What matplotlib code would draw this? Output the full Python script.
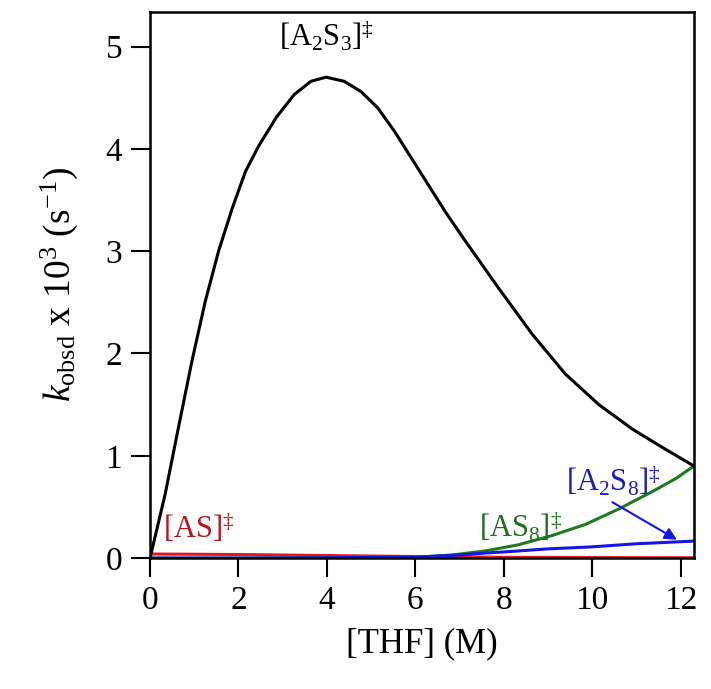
import numpy as np
import matplotlib
matplotlib.use('Agg')
import matplotlib.pyplot as plt

plt.rcParams['font.family'] = ['Liberation Serif', 'DejaVu Serif']
plt.rcParams['mathtext.fontset'] = 'custom'
plt.rcParams['mathtext.rm'] = 'Liberation Serif'
plt.rcParams['mathtext.it'] = 'Liberation Serif:italic'

# values
x_a2s3 = [0, 0.34, 0.64, 0.95, 1.25, 1.55, 1.86, 2.16, 2.46, 2.86, 3.26, 3.64, 3.98, 4.39,
          4.77, 5.15, 5.53, 5.91, 6.29, 6.67, 7.08, 7.88, 8.64, 9.39, 10.15, 10.91, 11.67, 12.3]
y_a2s3 = [0, 0.62, 1.27, 1.93, 2.51, 3.0, 3.42, 3.78, 4.03, 4.31, 4.53, 4.66, 4.70, 4.66,
          4.56, 4.40, 4.17, 3.91, 3.65, 3.39, 3.13, 2.64, 2.19, 1.80, 1.50, 1.26, 1.06, 0.90]

x_as8 = [0, 2, 4, 5.5, 6.2, 6.82, 7.58, 8.33, 9.09, 9.85, 10.6, 11.36, 11.9, 12.3]
y_as8 = [0, 0, 0.002, 0.006, 0.012, 0.03, 0.07, 0.13, 0.22, 0.33, 0.48, 0.65, 0.78, 0.90]

x_a2s8 = [0, 2, 4, 6, 7, 7.6, 8, 9, 10, 11, 12.3]
y_a2s8 = [0, 0, 0.003, 0.01, 0.03, 0.05, 0.06, 0.09, 0.11, 0.14, 0.166]

x_as = [0, 2, 4, 6, 8, 10, 12.3]
y_as = [0.04, 0.035, 0.025, 0.015, 0.008, 0.005, 0.003]

fig = plt.figure(figsize=(7.11, 6.89), dpi=100)
ax = fig.add_axes([0.211, 0.19, 0.765, 0.793])

ax.plot(x_as, y_as, color='#e8141b', lw=2.2)
ax.plot(x_as8, y_as8, color='#1f7a1f', lw=2.2)
ax.plot(x_a2s8, y_a2s8, color='#1515e6', lw=2.2)
ax.plot(x_a2s3, y_a2s3, color='black', lw=2.2)

ax.set_xlim(0, 12.3)
ax.set_ylim(0, 5.34)
ax.set_xticks([0, 2, 4, 6, 8, 10, 12])
ax.set_yticks([0, 1, 2, 3, 4, 5])
ax.tick_params(direction='out', length=14, width=1.5, labelsize=24, pad=6)
for s in ax.spines.values():
    s.set_linewidth(1.8)

ax.set_xlabel('[THF] (M)', fontsize=25, labelpad=8)
ax.set_ylabel(r'$k_{\rm obsd}$ x 10$^{3}$ (s$^{-1}$)', fontsize=27, labelpad=18)

ax.text(3.98, 4.93, r'[A$_2$S$_3$]$^{\ddag}$', fontsize=22, ha='center', va='bottom')
ax.text(0.3, 0.2, r'[AS]$^{\ddag}$', fontsize=22, color='#b3161d')
ax.text(7.45, 0.2, r'[AS$_8$]$^{\ddag}$', fontsize=22, color='#1f6b1f')
ax.text(9.4, 0.65, r'[A$_2$S$_8$]$^{\ddag}$', fontsize=22, color='#1c1ca8')
ax.annotate('', xy=(11.97, 0.166), xytext=(10.4, 0.56),
            arrowprops=dict(arrowstyle='-|>', color='#1515e6', lw=1.5, mutation_scale=18))

fig.savefig('out.png', dpi=100)
